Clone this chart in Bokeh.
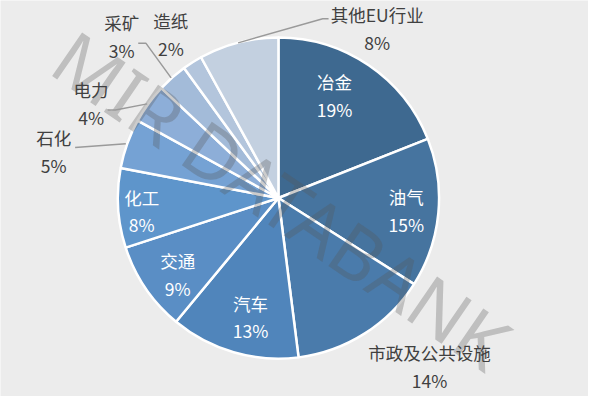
import math
from bokeh.plotting import figure
from bokeh.models import ColumnDataSource, Range1d
from bokeh.core.properties import value
from bokeh.embed import file_html
from bokeh.resources import INLINE

# ---- data ----
categories = ["冶金", "油气", "市政及公共设施", "汽车", "交通", "化工", "石化", "电力", "采矿", "造纸", "其他EU行业"]
shares = [19, 15, 14, 13, 9, 8, 5, 4, 3, 2, 8]
pct_labels = ["19%", "15%", "14%", "13%", "9%", "8%", "5%", "4%", "3%", "2%", "8%"]

# ---- styling / layout ----
colors = ["#3e6990", "#46749f", "#4a7bab", "#5085bb", "#5a8ec5", "#5e95cb",
          "#75a2d4", "#8daed8", "#a3bbd9", "#b3c5dc", "#c3d0e0"]
inside = [True, True, False, True, True, True, False, False, False, False, False]
# label placement in polar form (degrees clockwise from top, radius factor)
label_ang = [28.3, 95.6, 138.5, 193.0, 232.6, 264.5, 281.9, 297.1, 316.2, 327.0, 29.9]
label_rf = [0.736, 0.80, 1.42, 0.77, 0.79, 0.855, 1.43, 1.31, 1.41, 1.23, 1.234]

W, H = 588, 396          # pixel size of the figure
VW, VH = 604, 412        # virtual coordinate space
CX, CY, R = 285.5, VH - 205.5, 165.0

p = figure(width=W, height=H, output_backend="svg", toolbar_location=None,
           x_range=Range1d(0, VW), y_range=Range1d(0, VH), min_border=0)
p.axis.visible = False
p.grid.visible = False
p.outline_line_color = None
p.background_fill_color = "#ececec"
p.border_fill_color = "#ececec"

total = float(sum(shares))
starts, ends, mids = [], [], []
cum = 0.0
for v in shares:
    s = cum / total
    e = (cum + v) / total
    starts.append(math.pi / 2 - 2 * math.pi * e)
    ends.append(math.pi / 2 - 2 * math.pi * s)
    mids.append((s + e) / 2 * 360.0)
    cum += v

src = ColumnDataSource(dict(start=starts, end=ends, color=colors, cat=categories))
p.wedge(x=CX, y=CY, radius=R, start_angle="start", end_angle="end",
        direction="anticlock", fill_color="color", line_color="white",
        line_width=2.5, source=src)

def polar(deg, rr):
    a = math.radians(deg)
    return CX + rr * math.sin(a), CY + rr * math.cos(a)

# watermark
p.text(x=[CX + 3.5], y=[CY - 1.5], text=["MIR DATABANK"], angle=math.radians(-34.5),
       text_align="center", text_baseline="middle", text_font=value("Noto Sans"),
       text_font_size="74px", text_color="#555555", text_alpha=0.3)

# leader lines for small outside slices (indices), with elbow offsets
leader_idx = [10, 8, 7, 6]
for i in leader_idx:
    x0, y0 = polar(mids[i], R * 1.01)
    lx, ly = polar(label_ang[i], label_rf[i] * R)
    if i == 10:
        xs = [x0, lx - 56, lx - 50]
        ys = [y0, ly + 10, ly + 10]
    elif i == 6:
        xs = [x0, lx + 22]
        ys = [y0, ly + 4]
    else:
        xs = [x0, lx + 25, lx + 17]
        ys = [y0, ly - 7, ly - 7]
    p.line(xs, ys, line_color="#9a9a9a", line_width=1.5)

# labels
nx, ny, px, py, tc = [], [], [], [], []
for i in range(len(categories)):
    lx, ly = polar(label_ang[i], label_rf[i] * R)
    nx.append(lx); ny.append(ly + 14.5)
    px.append(lx); py.append(ly - 14.5)
    tc.append("#ffffff" if inside[i] else "#404040")

lsrc = ColumnDataSource(dict(nx=nx, ny=ny, px=px, py=py, name=categories, pct=pct_labels, tc=tc))
p.text(x="nx", y="ny", text="name", text_color="tc", source=lsrc,
       text_align="center", text_baseline="middle",
       text_font=value("Noto Sans CJK SC"), text_font_size="17.5px")
p.text(x="px", y="py", text="pct", text_color="tc", source=lsrc,
       text_align="center", text_baseline="middle",
       text_font=value("Noto Sans CJK SC"), text_font_size="17.5px")

open("out.html", "w").write(file_html(p, INLINE))
